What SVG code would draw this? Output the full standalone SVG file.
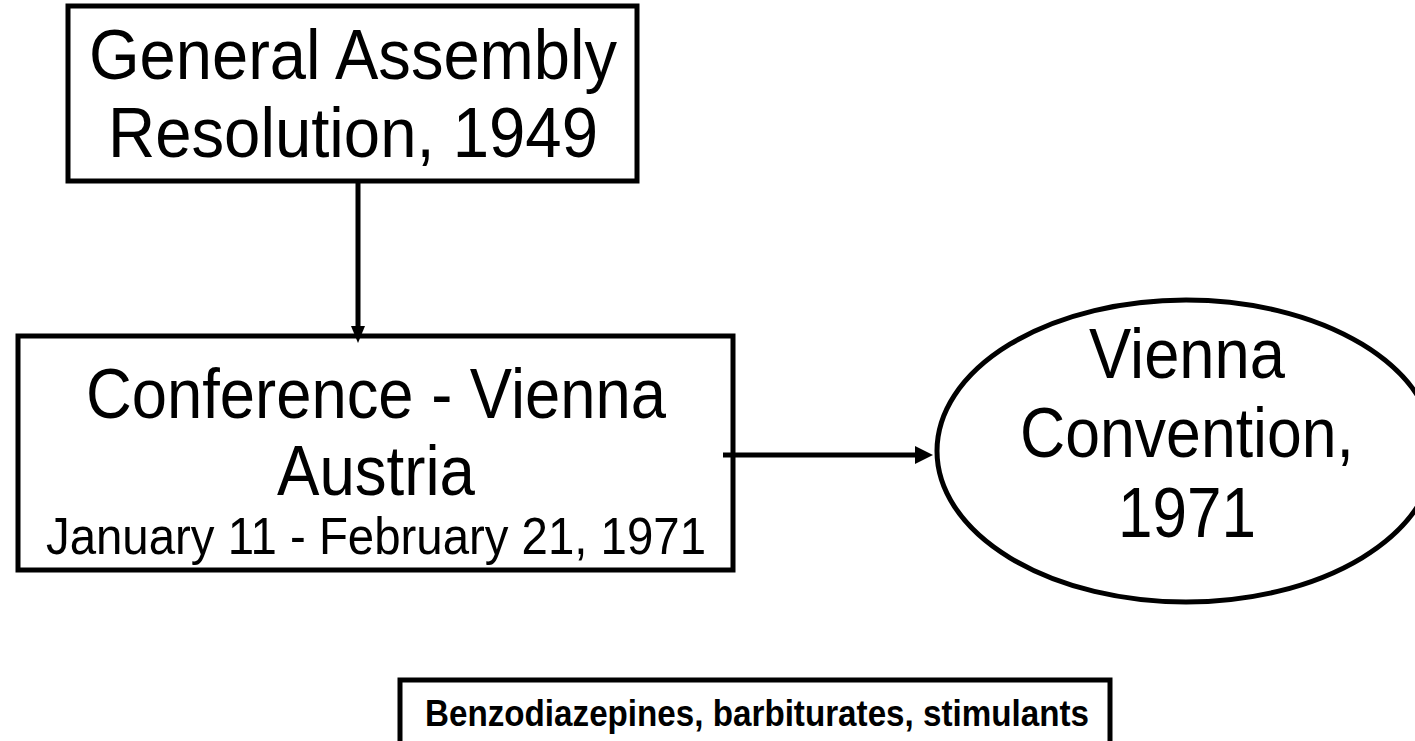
<svg xmlns="http://www.w3.org/2000/svg" width="1415" height="741" viewBox="0 0 1415 741">
<style>
.box{fill:#fff;stroke:#000;stroke-width:5}
.t{font-family:"Liberation Sans",Arial,sans-serif;fill:#000;text-anchor:middle}
.big{font-size:70px}
.small{font-size:52px}
.bold{font-size:36px;font-weight:bold}
.conn{stroke:#000;stroke-width:5;fill:none}
</style>
<rect width="1415" height="741" fill="#fff"/>
<g id="n1">
<rect class="box" x="68" y="6" width="569" height="175"/>
<text class="t big" x="353" y="79" textLength="528" lengthAdjust="spacingAndGlyphs">General Assembly</text>
<text class="t big" x="353" y="157" textLength="490" lengthAdjust="spacingAndGlyphs">Resolution, 1949</text>
</g>
<g id="n2">
<rect class="box" x="18" y="336" width="715" height="234"/>
<text class="t big" x="376" y="418" textLength="580" lengthAdjust="spacingAndGlyphs">Conference - Vienna</text>
<text class="t big" x="376" y="495" textLength="198" lengthAdjust="spacingAndGlyphs">Austria</text>
<text class="t small" x="376" y="554" textLength="660" lengthAdjust="spacingAndGlyphs">January 11 - February 21, 1971</text>
</g>
<g id="n3">
<ellipse class="box" cx="1186" cy="451" rx="249" ry="151"/>
<text class="t big" x="1187" y="378" textLength="196" lengthAdjust="spacingAndGlyphs">Vienna</text>
<text class="t big" x="1187" y="457" textLength="334" lengthAdjust="spacingAndGlyphs">Convention,</text>
<text class="t big" x="1187" y="537" textLength="138" lengthAdjust="spacingAndGlyphs">1971</text>
</g>
<g id="n4">
<rect class="box" x="400" y="680" width="710" height="90"/>
<text class="t bold" x="757" y="726" textLength="664" lengthAdjust="spacingAndGlyphs">Benzodiazepines, barbiturates, stimulants</text>
</g>
<g id="connectors">
<line class="conn" x1="358" y1="181" x2="358" y2="328"/>
<polygon points="351,326 365,326 358,343" fill="#000"/>
<line class="conn" x1="723" y1="455" x2="917" y2="455"/>
<polygon points="915,446 915,464 933,455" fill="#000"/>
</g>
</svg>
